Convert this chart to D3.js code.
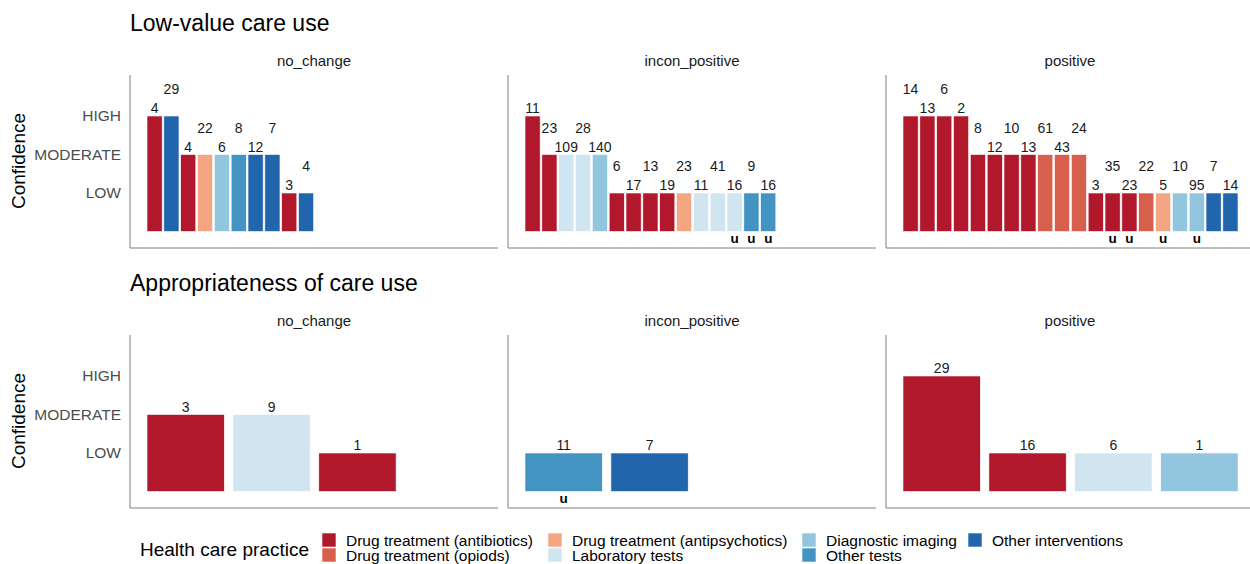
<!DOCTYPE html>
<html lang="en">
<head>
  <meta charset="UTF-8">
  <script src="https://cdn.jsdelivr.net/npm/d3@7"></script>
  <style>
    body { margin: 0; background: #fff; }
    svg { font-family: "Liberation Sans", Arial, sans-serif; display: block; }
    .axis path { stroke: #7f7f7f; }
    .axis text { fill: #4d4d4d; font-size: 15.5px; }
  </style>
</head>
<body>
<svg></svg>
<script>
// practices (legend order) and their colours
var practiceNames = ["Drug treatment (antibiotics)", "Drug treatment (opiods)",
  "Drug treatment (antipsychotics)", "Laboratory tests", "Diagnostic imaging",
  "Other tests", "Other interventions"];
var practiceColors = ["#b2182b", "#d6604d", "#f4a582", "#d1e5f0", "#92c5de", "#4393c3", "#2166ac"];
var confidenceLevels = ["LOW", "MODERATE", "HIGH"];
var facetNames = ["no_change", "incon_positive", "positive"];
var rowTitles = ["Low-value care use", "Appropriateness of care use"];

// Low-value care use: practice index, confidence, count, "u" flag
var lvNoChangePractice = [0, 6, 0, 2, 4, 5, 6, 6, 0, 6];
var lvNoChangeConf = ["HIGH", "HIGH", "MODERATE", "MODERATE", "MODERATE", "MODERATE", "MODERATE", "MODERATE", "LOW", "LOW"];
var lvNoChangeN = [4, 29, 4, 22, 6, 8, 12, 7, 3, 4];
var lvNoChangeU = [0, 0, 0, 0, 0, 0, 0, 0, 0, 0];

var lvInconPractice = [0, 0, 3, 3, 4, 0, 0, 0, 0, 2, 3, 3, 3, 5, 5];
var lvInconConf = ["HIGH", "MODERATE", "MODERATE", "MODERATE", "MODERATE", "LOW", "LOW", "LOW", "LOW", "LOW", "LOW", "LOW", "LOW", "LOW", "LOW"];
var lvInconN = [11, 23, 109, 28, 140, 6, 17, 13, 19, 23, 11, 41, 16, 9, 16];
var lvInconU = [0, 0, 0, 0, 0, 0, 0, 0, 0, 0, 0, 0, 1, 1, 1];

var lvPositivePractice = [0, 0, 0, 0, 0, 0, 0, 0, 1, 1, 1, 0, 0, 0, 1, 2, 4, 4, 6, 6];
var lvPositiveConf = ["HIGH", "HIGH", "HIGH", "HIGH", "MODERATE", "MODERATE", "MODERATE", "MODERATE", "MODERATE", "MODERATE", "MODERATE",
  "LOW", "LOW", "LOW", "LOW", "LOW", "LOW", "LOW", "LOW", "LOW"];
var lvPositiveN = [14, 13, 6, 2, 8, 12, 10, 13, 61, 43, 24, 3, 35, 23, 22, 5, 10, 95, 7, 14];
var lvPositiveU = [0, 0, 0, 0, 0, 0, 0, 0, 0, 0, 0, 0, 1, 1, 0, 1, 0, 1, 0, 0];

// Appropriateness of care use
var apNoChangePractice = [0, 3, 0];
var apNoChangeConf = ["MODERATE", "MODERATE", "LOW"];
var apNoChangeN = [3, 9, 1];
var apNoChangeU = [0, 0, 0];

var apInconPractice = [5, 6];
var apInconConf = ["LOW", "LOW"];
var apInconN = [11, 7];
var apInconU = [1, 0];

var apPositivePractice = [0, 0, 3, 4];
var apPositiveConf = ["HIGH", "LOW", "LOW", "LOW"];
var apPositiveN = [29, 16, 6, 1];
var apPositiveU = [0, 0, 0, 0];

function buildRow(pr, cf, ns, us) {
  var k = 0;
  return pr.map(function(p, f) {
    return p.map(function(d, i) {
      return {facet: facetNames[f], pos: i, practice: d, conf: cf[f][i], n: ns[f][i], u: us[f][i], gi: k++};
    });
  });
}

var rows = [
  buildRow([lvNoChangePractice, lvInconPractice, lvPositivePractice],
           [lvNoChangeConf, lvInconConf, lvPositiveConf],
           [lvNoChangeN, lvInconN, lvPositiveN],
           [lvNoChangeU, lvInconU, lvPositiveU]),
  buildRow([apNoChangePractice, apInconPractice, apPositivePractice],
           [apNoChangeConf, apInconConf, apPositiveConf],
           [apNoChangeN, apInconN, apPositiveN],
           [apNoChangeU, apInconU, apPositiveU])
];

var W = 1250, H = 564;
var svg = d3.select("svg").attr("width", W).attr("height", H);

var panelLeft = 130, panelW = 368, panelGap = 10;
var rowTop = [75, 335], panelH = 173;

var y = d3.scaleLinear().domain([0, 3]).range([panelH - 16.5, 41]);
var confVal = function(c) { return confidenceLevels.indexOf(c) + 1; };

rows.forEach(function(row, r) {
  var top = rowTop[r];
  var stagger = r === 0;

  // row title
  svg.append("text")
    .attr("x", 130).attr("y", top - 44)
    .attr("font-size", 23).attr("fill", "#000")
    .text(rowTitles[r]);

  // y title
  svg.append("text")
    .attr("transform", "translate(25," + (top + 86) + ") rotate(-90)")
    .attr("text-anchor", "middle")
    .attr("font-size", 19).attr("fill", "#000")
    .text("Confidence");

  var maxN = d3.max(row, function(p) { return p.length; });
  var x = d3.scaleBand().domain(d3.range(maxN)).range([17, 352]).paddingInner(0.1).paddingOuter(0);

  row.forEach(function(data, f) {
    var g = svg.append("g")
      .attr("transform", "translate(" + (panelLeft + f * (panelW + panelGap)) + "," + top + ")");

    // strip label
    g.append("text")
      .attr("x", panelW / 2).attr("y", -9)
      .attr("text-anchor", "middle")
      .attr("font-size", 15).attr("fill", "#1a1a1a")
      .text(facetNames[f]);

    // axes
    var yAxis = d3.axisLeft(y).tickValues([1, 2, 3])
      .tickFormat(function(v) { return confidenceLevels[v - 1]; })
      .tickSize(0).tickPadding(9);
    var ya = g.append("g").attr("class", "axis").call(yAxis);
    ya.select(".domain").attr("d", "M0,0V" + panelH);
    if (f > 0) ya.selectAll(".tick text").remove();
    g.append("line")
      .attr("x1", 0).attr("x2", panelW)
      .attr("y1", panelH).attr("y2", panelH)
      .attr("stroke", "#7f7f7f");

    // bars
    g.selectAll("rect.bar").data(data).enter().append("rect")
      .attr("class", "bar")
      .attr("x", function(d) { return x(d.pos); })
      .attr("width", x.bandwidth())
      .attr("y", function(d) { return y(confVal(d.conf)); })
      .attr("height", function(d) { return y(0) - y(confVal(d.conf)); })
      .attr("fill", function(d) { return practiceColors[d.practice]; })
      .attr("stroke", "#fff").attr("stroke-width", 0.6);

    // count labels
    g.selectAll("text.count").data(data).enter().append("text")
      .attr("class", "count")
      .attr("x", function(d) { return x(d.pos) + x.bandwidth() / 2; })
      .attr("y", function(d) {
        var off = (stagger && d.gi % 2 === 1) ? 22 : 3;
        return y(confVal(d.conf)) - off;
      })
      .attr("text-anchor", "middle")
      .attr("font-size", 14).attr("fill", "#1a1a1a")
      .text(function(d) { return d.n; });

    // unclear markers
    g.selectAll("text.u").data(data.filter(function(d) { return d.u; })).enter().append("text")
      .attr("class", "u")
      .attr("x", function(d) { return x(d.pos) + x.bandwidth() / 2; })
      .attr("y", y(0) + 11)
      .attr("text-anchor", "middle")
      .attr("font-size", 13.5).attr("font-weight", "bold").attr("fill", "#000")
      .text("u");
  });
});

// legend
svg.append("text")
  .attr("x", 140).attr("y", 556)
  .attr("font-size", 19).attr("fill", "#000")
  .text("Health care practice");

var legendCols = [322, 548, 802, 968];
practiceNames.forEach(function(name, i) {
  var col = Math.floor(i / 2), rowi = i % 2;
  var lx = legendCols[col], ly = 533 + rowi * 15;
  svg.append("rect")
    .attr("x", lx).attr("y", ly)
    .attr("width", 14).attr("height", 14)
    .attr("fill", practiceColors[i])
    .attr("stroke", "#fff").attr("stroke-width", 0.6);
  svg.append("text")
    .attr("x", lx + 24).attr("y", ly + 12.5)
    .attr("font-size", 15.5).attr("fill", "#000")
    .text(name);
});
</script>
</body>
</html>
